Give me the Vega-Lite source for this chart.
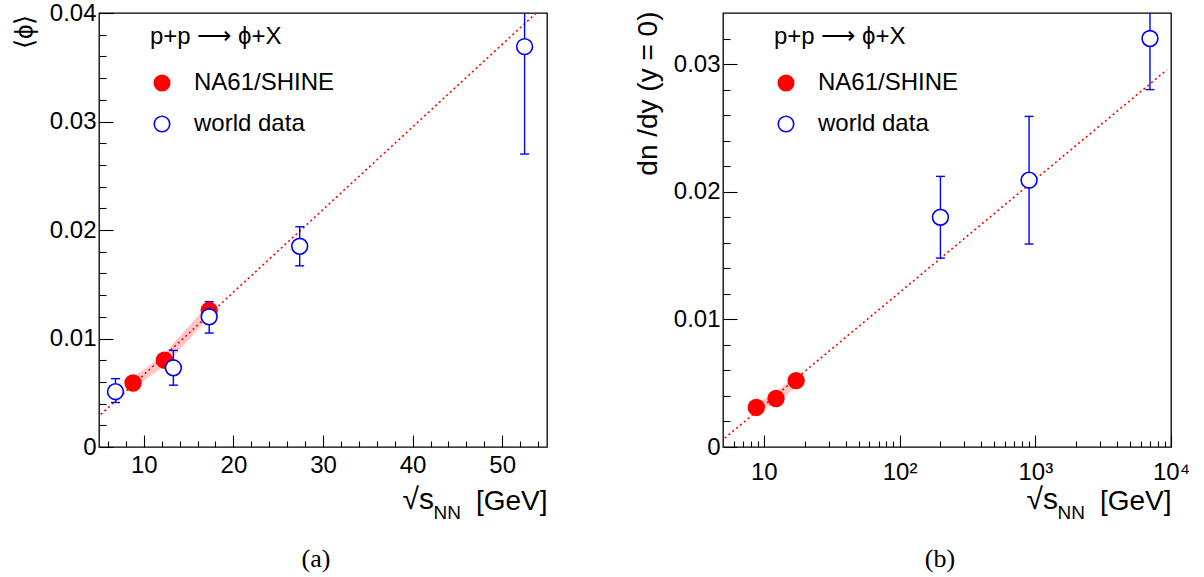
{
  "$schema": "https://vega.github.io/schema/vega-lite/v6.json",
  "autosize": {"type": "pad"},
  "padding": {"left": 10, "top": 0, "right": 5, "bottom": 5},
  "background": "white",
  "bounds": "flush",
  "spacing": 176,
  "datasets": {
    "left_pts": [
      {"series": "NA61/SHINE", "x": 8.8, "y": 0.0059},
      {"series": "NA61/SHINE", "x": 12.3, "y": 0.0080},
      {"series": "NA61/SHINE", "x": 17.3, "y": 0.0126},
      {"series": "world data", "x": 6.84, "y": 0.0051, "lo": 0.0041, "hi": 0.0063},
      {"series": "world data", "x": 13.3, "y": 0.0073, "lo": 0.0057, "hi": 0.0089},
      {"series": "world data", "x": 17.3, "y": 0.0120, "lo": 0.0105, "hi": 0.0134},
      {"series": "world data", "x": 27.4, "y": 0.0185, "lo": 0.0167, "hi": 0.0203},
      {"series": "world data", "x": 52.5, "y": 0.0369, "lo": 0.0270, "hi": 0.0470}
    ],
    "left_fit": [
      {"x": 5.2, "y": 0.0030},
      {"x": 53.8, "y": 0.0400}
    ],
    "right_pts": [
      {"series": "NA61/SHINE", "x": 8.8, "y": 0.0031},
      {"series": "NA61/SHINE", "x": 12.3, "y": 0.0038},
      {"series": "NA61/SHINE", "x": 17.3, "y": 0.0052},
      {"series": "world data", "x": 200, "y": 0.0180, "lo": 0.0148, "hi": 0.0212},
      {"series": "world data", "x": 900, "y": 0.0209, "lo": 0.0159, "hi": 0.0259},
      {"series": "world data", "x": 7000, "y": 0.0320, "lo": 0.0280, "hi": 0.0360}
    ],
    "right_fit": [
      {"x": 5.15, "y": 0.0007},
      {"x": 9330, "y": 0.02955}
    ]
  },
  "resolve": {
    "scale": {"x": "independent", "y": "independent", "fill": "independent", "stroke": "independent"},
    "legend": {"fill": "independent", "stroke": "independent"},
    "axis": {"x": "independent", "y": "independent"}
  },
  "hconcat": [
    {
      "width": 448,
      "height": 434,
      "title": {"text": "(a)", "orient": "bottom", "anchor": "middle", "frame": "group", "font": "Liberation Serif", "fontSize": 26, "fontWeight": "normal", "color": "black", "offset": 24, "dx": -7},
      "resolve": {"axis": {"x": "independent", "y": "independent"}},
      "layer": [
        {
          "data": {"name": "left_pts"},
          "transform": [{"filter": "datum.series == 'NA61/SHINE'"}],
          "mark": {"type": "line", "color": "#ffc6c6", "strokeWidth": 9, "strokeCap": "butt", "clip": true},
          "encoding": {
            "x": {"field": "x", "type": "quantitative", "scale": {"domain": [5, 55], "nice": false, "zero": false},
              "axis": {"orient": "bottom", "values": [10, 20, 30, 40, 50], "tickSize": -12, "labelPadding": 18, "labelFontSize": 24, "labelFlush": false, "labelOverlap": false, "domain": false, "grid": false,
                "title": "[GeV]", "titleFontSize": 28, "titleFontWeight": "normal", "titleAlign": "right", "titleBaseline": "alphabetic", "titleX": 448, "titleY": 62.6}},
            "y": {"field": "y", "type": "quantitative", "scale": {"domain": [0, 0.04], "nice": false},
              "axis": {"orient": "left", "values": [0, 0.01, 0.02, 0.03, 0.04], "tickSize": -14, "labelPadding": 17, "labelFontSize": 24, "labelFlush": false, "labelOverlap": false, "domain": false, "grid": false,
                "labelExpr": "datum.value == 0 ? '0' : format(datum.value, '.2f')",
                "title": "⟨ϕ⟩", "titleFontSize": 26, "titleFontWeight": "normal", "titleAngle": 270, "titleAlign": "right", "titleBaseline": "alphabetic", "titleX": -67, "titleY": 1}}
          }
        },
        {
          "data": {"name": "left_fit"},
          "mark": {"type": "line", "color": "#ff0000", "strokeWidth": 1.6, "strokeDash": [2, 3], "clip": true},
          "encoding": {
            "x": {"field": "x", "type": "quantitative", "scale": {"domain": [5, 55], "nice": false, "zero": false},
              "axis": {"orient": "bottom", "values": [6, 8, 12, 14, 16, 18, 22, 24, 26, 28, 32, 34, 36, 38, 42, 44, 46, 48, 52, 54], "tickSize": -6, "labels": false, "domain": false, "grid": false,
                "title": "√s", "titleFontSize": 30, "titleFontWeight": "normal", "titleAlign": "left", "titleBaseline": "alphabetic", "titleX": 303, "titleY": 61.5}},
            "y": {"field": "y", "type": "quantitative", "scale": {"domain": [0, 0.04], "nice": false},
              "axis": {"orient": "left", "values": [0.002, 0.004, 0.006, 0.008, 0.012, 0.014, 0.016, 0.018, 0.022, 0.024, 0.026, 0.028, 0.032, 0.034, 0.036, 0.038], "tickSize": -7, "labels": false, "domain": false, "grid": false,
                "title": "NN", "titleFontSize": 19, "titleFontWeight": "normal", "titleAngle": 0, "titleAlign": "left", "titleBaseline": "alphabetic", "titleX": 334, "titleY": 505}}
          }
        },
        {
          "data": {"name": "left_pts"},
          "transform": [{"filter": "datum.series == 'world data'"}],
          "mark": {"type": "rule", "color": "#0000ff", "strokeWidth": 1.4, "clip": true},
          "encoding": {
            "x": {"field": "x", "type": "quantitative", "scale": {"domain": [5, 55], "nice": false, "zero": false}, "axis": null},
            "y": {"field": "lo", "type": "quantitative", "scale": {"domain": [0, 0.04], "nice": false}, "axis": null},
            "y2": {"field": "hi"}
          }
        },
        {
          "data": {"name": "left_pts"},
          "transform": [{"filter": "datum.series == 'world data'"}],
          "mark": {"type": "point", "shape": "stroke", "size": 81, "filled": false, "color": "#0000ff", "strokeWidth": 1.4, "opacity": 1, "clip": true},
          "encoding": {
            "x": {"field": "x", "type": "quantitative", "scale": {"domain": [5, 55], "nice": false, "zero": false}, "axis": null},
            "y": {"field": "lo", "type": "quantitative", "scale": {"domain": [0, 0.04], "nice": false}, "axis": null}
          }
        },
        {
          "data": {"name": "left_pts"},
          "transform": [{"filter": "datum.series == 'world data'"}],
          "mark": {"type": "point", "shape": "stroke", "size": 81, "filled": false, "color": "#0000ff", "strokeWidth": 1.4, "opacity": 1, "clip": true},
          "encoding": {
            "x": {"field": "x", "type": "quantitative", "scale": {"domain": [5, 55], "nice": false, "zero": false}, "axis": null},
            "y": {"field": "hi", "type": "quantitative", "scale": {"domain": [0, 0.04], "nice": false}, "axis": null}
          }
        },
        {
          "data": {"name": "left_pts"},
          "mark": {"type": "point", "shape": "circle", "filled": true, "size": 250, "strokeWidth": 1.6, "opacity": 1, "clip": true},
          "encoding": {
            "x": {"field": "x", "type": "quantitative", "scale": {"domain": [5, 55], "nice": false, "zero": false}, "axis": null},
            "y": {"field": "y", "type": "quantitative", "scale": {"domain": [0, 0.04], "nice": false}, "axis": null},
            "fill": {"field": "series", "type": "nominal", "title": "p+p ⟶ ϕ+X", "scale": {"domain": ["NA61/SHINE", "world data"], "range": ["#ff0000", "#ffffff"]}, "legend": {"orient": "none", "legendX": 51, "legendY": 12, "symbolSize": 240}},
            "stroke": {"field": "series", "type": "nominal", "title": "p+p ⟶ ϕ+X", "scale": {"domain": ["NA61/SHINE", "world data"], "range": ["#ff0000", "#0000ff"]}, "legend": {"orient": "none", "legendX": 51, "legendY": 12, "symbolSize": 240}}
          }
        }
      ]
    },
    {
      "width": 448,
      "height": 434,
      "title": {"text": "(b)", "orient": "bottom", "anchor": "middle", "frame": "group", "font": "Liberation Serif", "fontSize": 26, "fontWeight": "normal", "color": "black", "offset": 24, "dx": -7},
      "resolve": {"axis": {"x": "independent", "y": "independent"}},
      "layer": [
        {
          "data": {"name": "right_pts"},
          "transform": [{"filter": "datum.series == 'NA61/SHINE'"}],
          "mark": {"type": "line", "color": "#ffc6c6", "strokeWidth": 9, "strokeCap": "butt", "clip": true},
          "encoding": {
            "x": {"field": "x", "type": "quantitative", "scale": {"type": "log", "domain": [5, 10000], "nice": false},
              "axis": {"orient": "bottom", "values": [10, 100, 1000, 10000], "tickSize": -12, "labelPadding": 25, "labelFontSize": 24, "labelFlush": false, "labelOverlap": false, "domain": false, "grid": false,
                "labelExpr": "datum.value == 10 ? '10' : datum.value == 100 ? '10²' : datum.value == 1000 ? '10³' : '10⁴'",
                "title": "[GeV]", "titleFontSize": 28, "titleFontWeight": "normal", "titleAlign": "right", "titleBaseline": "alphabetic", "titleX": 448, "titleY": 62.6}},
            "y": {"field": "y", "type": "quantitative", "scale": {"domain": [0, 0.034], "nice": false},
              "axis": {"orient": "left", "values": [0, 0.01, 0.02, 0.03], "tickSize": -14, "labelPadding": 17, "labelFontSize": 24, "labelFlush": false, "labelOverlap": false, "domain": false, "grid": false,
                "labelExpr": "datum.value == 0 ? '0' : format(datum.value, '.2f')",
                "title": "dn /dy (y = 0)", "titleFontSize": 28, "titleFontWeight": "normal", "titleAngle": 270, "titleAlign": "right", "titleBaseline": "alphabetic", "titleX": -67, "titleY": -2}}
          }
        },
        {
          "data": {"name": "right_fit"},
          "mark": {"type": "line", "color": "#ff0000", "strokeWidth": 1.6, "strokeDash": [2, 3], "clip": true},
          "encoding": {
            "x": {"field": "x", "type": "quantitative", "scale": {"type": "log", "domain": [5, 10000], "nice": false},
              "axis": {"orient": "bottom", "values": [6, 7, 8, 9, 20, 30, 40, 50, 60, 70, 80, 90, 200, 300, 400, 500, 600, 700, 800, 900, 2000, 3000, 4000, 5000, 6000, 7000, 8000, 9000], "tickSize": -6, "labels": false, "domain": false, "grid": false,
                "title": "√s", "titleFontSize": 30, "titleFontWeight": "normal", "titleAlign": "left", "titleBaseline": "alphabetic", "titleX": 303, "titleY": 61.5}},
            "y": {"field": "y", "type": "quantitative", "scale": {"domain": [0, 0.034], "nice": false},
              "axis": {"orient": "left", "values": [0.002, 0.004, 0.006, 0.008, 0.012, 0.014, 0.016, 0.018, 0.022, 0.024, 0.026, 0.028, 0.032], "tickSize": -7, "labels": false, "domain": false, "grid": false,
                "title": "NN", "titleFontSize": 19, "titleFontWeight": "normal", "titleAngle": 0, "titleAlign": "left", "titleBaseline": "alphabetic", "titleX": 334, "titleY": 505}}
          }
        },
        {
          "data": {"name": "right_pts"},
          "transform": [{"filter": "datum.series == 'world data'"}],
          "mark": {"type": "rule", "color": "#0000ff", "strokeWidth": 1.4, "clip": true},
          "encoding": {
            "x": {"field": "x", "type": "quantitative", "scale": {"type": "log", "domain": [5, 10000], "nice": false}, "axis": null},
            "y": {"field": "lo", "type": "quantitative", "scale": {"domain": [0, 0.034], "nice": false}, "axis": null},
            "y2": {"field": "hi"}
          }
        },
        {
          "data": {"name": "right_pts"},
          "transform": [{"filter": "datum.series == 'world data'"}],
          "mark": {"type": "point", "shape": "stroke", "size": 81, "filled": false, "color": "#0000ff", "strokeWidth": 1.4, "opacity": 1, "clip": true},
          "encoding": {
            "x": {"field": "x", "type": "quantitative", "scale": {"type": "log", "domain": [5, 10000], "nice": false}, "axis": null},
            "y": {"field": "lo", "type": "quantitative", "scale": {"domain": [0, 0.034], "nice": false}, "axis": null}
          }
        },
        {
          "data": {"name": "right_pts"},
          "transform": [{"filter": "datum.series == 'world data'"}],
          "mark": {"type": "point", "shape": "stroke", "size": 81, "filled": false, "color": "#0000ff", "strokeWidth": 1.4, "opacity": 1, "clip": true},
          "encoding": {
            "x": {"field": "x", "type": "quantitative", "scale": {"type": "log", "domain": [5, 10000], "nice": false}, "axis": null},
            "y": {"field": "hi", "type": "quantitative", "scale": {"domain": [0, 0.034], "nice": false}, "axis": null}
          }
        },
        {
          "data": {"name": "right_pts"},
          "mark": {"type": "point", "shape": "circle", "filled": true, "size": 250, "strokeWidth": 1.6, "opacity": 1, "clip": true},
          "encoding": {
            "x": {"field": "x", "type": "quantitative", "scale": {"type": "log", "domain": [5, 10000], "nice": false}, "axis": null},
            "y": {"field": "y", "type": "quantitative", "scale": {"domain": [0, 0.034], "nice": false}, "axis": null},
            "fill": {"field": "series", "type": "nominal", "title": "p+p ⟶ ϕ+X", "scale": {"domain": ["NA61/SHINE", "world data"], "range": ["#ff0000", "#ffffff"]}, "legend": {"orient": "none", "legendX": 51, "legendY": 12, "symbolSize": 240}},
            "stroke": {"field": "series", "type": "nominal", "title": "p+p ⟶ ϕ+X", "scale": {"domain": ["NA61/SHINE", "world data"], "range": ["#ff0000", "#0000ff"]}, "legend": {"orient": "none", "legendX": 51, "legendY": 12, "symbolSize": 240}}
          }
        }
      ]
    }
  ],
  "config": {
    "font": "Liberation Sans",
    "title": {"fontSize": 26, "font": "Liberation Serif"},
    "view": {"stroke": "#000000", "strokeWidth": 1.3},
    "axis": {"labelColor": "#000000", "tickColor": "#000000", "tickWidth": 1.1, "titleColor": "#000000", "labelFont": "Liberation Sans", "titleFont": "Liberation Sans"},
    "legend": {"labelFontSize": 24, "titleFontSize": 24, "titleFontWeight": "normal", "titleColor": "#000000", "labelColor": "#000000", "labelFont": "Liberation Sans", "titleFont": "Liberation Sans", "symbolSize": 240, "symbolStrokeWidth": 1.6, "labelOffset": 20, "rowPadding": 17, "titlePadding": 22, "padding": 0, "titleLimit": 400, "labelLimit": 400}
  }
}
